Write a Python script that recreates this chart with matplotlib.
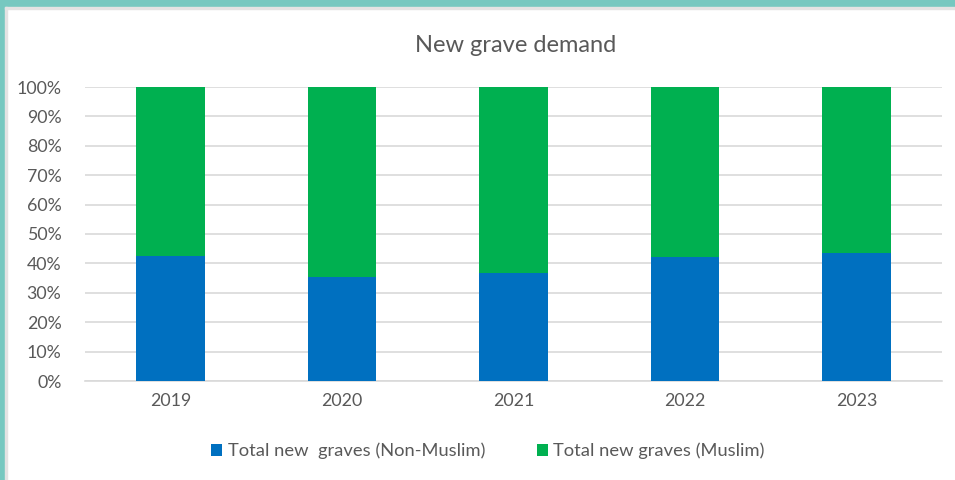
import numpy as np
import matplotlib.pyplot as plt
from matplotlib.patches import Rectangle
from matplotlib.ticker import PercentFormatter

plt.rcParams['font.family'] = ['Lato', 'DejaVu Sans']

years = ["2019", "2020", "2021", "2022", "2023"]
non_muslim = [42.6, 35.3, 36.8, 42.3, 43.6]
muslim = [100 - v for v in non_muslim]

blue = "#0070C0"
green = "#00B050"
grey = "#595959"

fig = plt.figure(figsize=(9.55, 4.8), dpi=100)
ax = fig.add_axes([85 / 955, 1 - 381 / 480, 857 / 955, 294 / 480])

x = np.arange(len(years))
ax.bar(x, non_muslim, width=0.4, color=blue, label="Total new  graves (Non-Muslim)", zorder=3)
ax.bar(x, muslim, width=0.4, bottom=non_muslim, color=green, label="Total new graves (Muslim)", zorder=3)

ax.set_xlim(-0.5, len(years) - 0.5)
ax.set_ylim(0, 100)
ax.set_yticks(np.arange(0, 101, 10))
ax.yaxis.set_major_formatter(PercentFormatter(decimals=0))
ax.set_xticks(x)
ax.set_xticklabels(years)
ax.grid(axis="y", color="#D9D9D9", linewidth=1.2, zorder=0)
for s in ["top", "right", "left"]:
    ax.spines[s].set_visible(False)
ax.spines["bottom"].set_color("#D9D9D9")
ax.spines["bottom"].set_linewidth(1.2)
ax.tick_params(length=0, labelsize=12.8, labelcolor=grey)
ax.tick_params(axis="x", pad=9)
ax.tick_params(axis="y", pad=17)

fig.text(0.540, 1 - 45 / 480, "New grave demand", ha="center", va="center", fontsize=17, color=grey)

fig.legend(loc="center", bbox_to_anchor=(0.511, 1 - 451 / 480), ncol=2, frameon=False,
           fontsize=13.2, labelcolor=grey, handlelength=0.6, handleheight=0.6,
           handletextpad=0.3, columnspacing=2.8)

# teal frame on top and left edges
fig.patches.append(Rectangle((0, 1 - 7 / 480), 1, 7 / 480, transform=fig.transFigure,
                             color="#76C8C0", zorder=10))
fig.patches.append(Rectangle((0, 0), 5 / 955, 1, transform=fig.transFigure,
                             color="#76C8C0", zorder=10))
fig.patches.append(Rectangle((5 / 955, 0), 2 / 955, 1 - 7 / 480, transform=fig.transFigure,
                             color="#E3E3E3", zorder=10))
fig.patches.append(Rectangle((5 / 955, 1 - 9 / 480), 1, 2 / 480, transform=fig.transFigure,
                             color="#E3E3E3", zorder=10))

fig.savefig("out.png", dpi=100)
